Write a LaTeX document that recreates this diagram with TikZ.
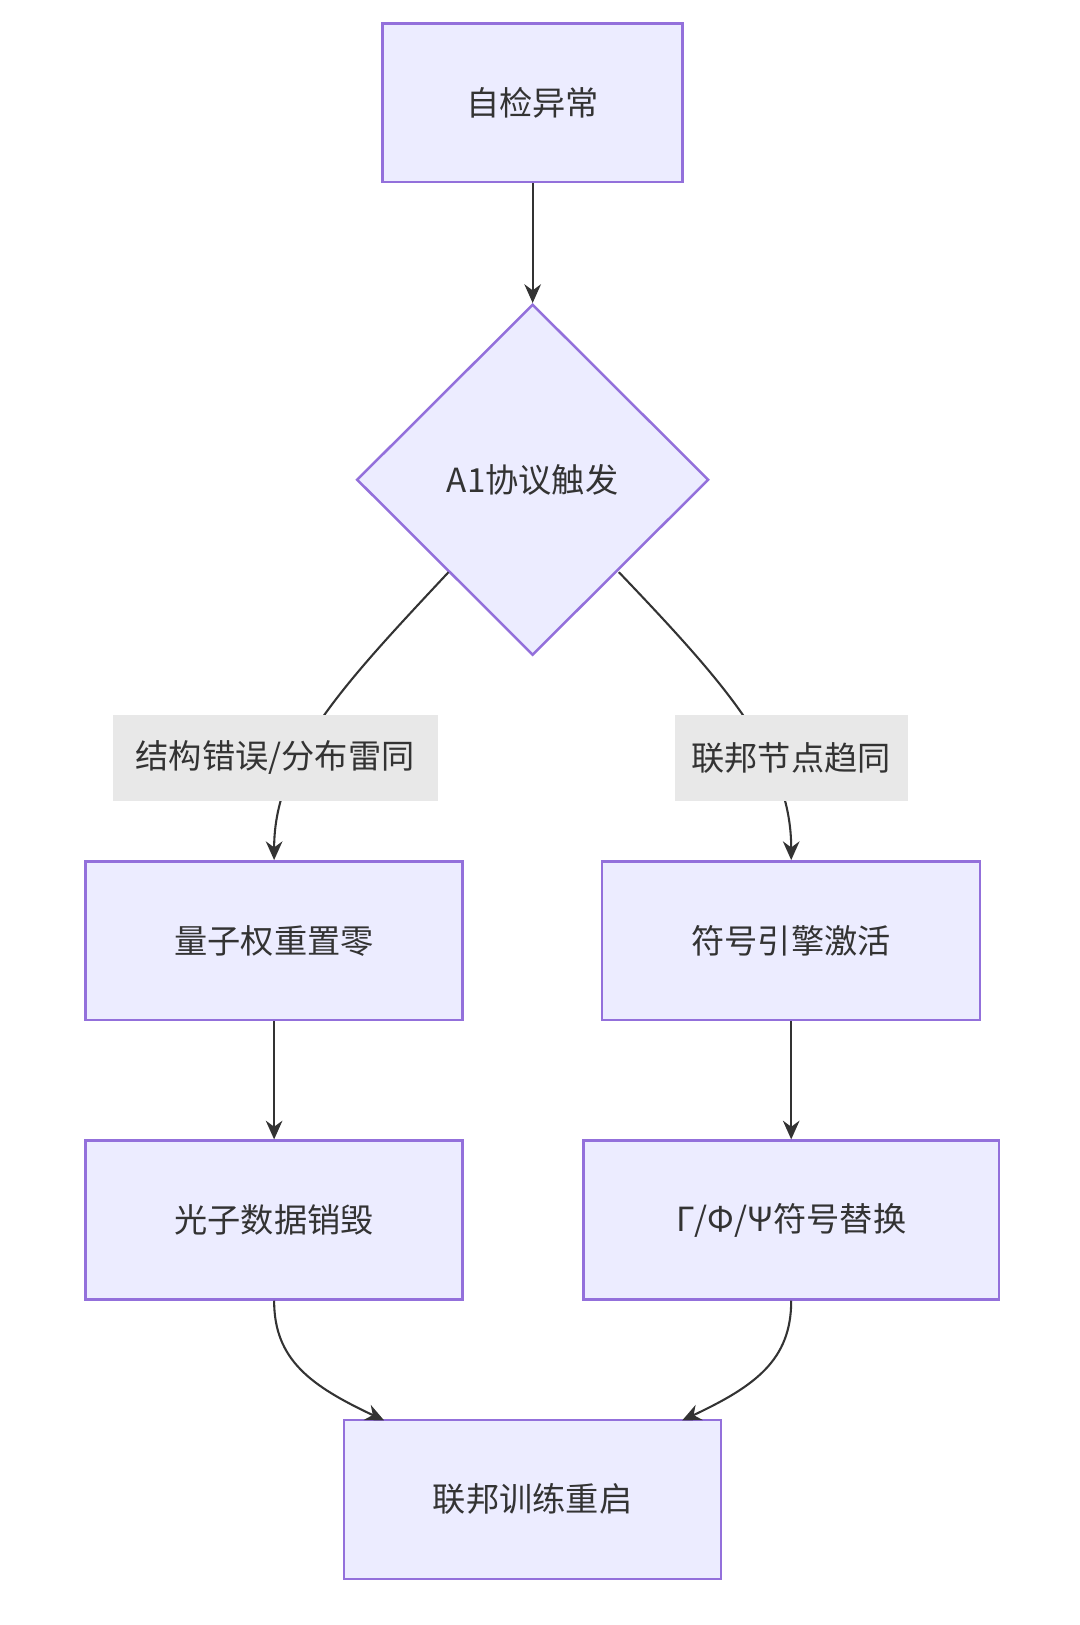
\documentclass[tikz,border=0pt]{standalone}
\usepackage{fontspec}
\setmainfont{Noto Sans CJK SC}
\usetikzlibrary{shapes.geometric,arrows.meta}
\definecolor{bx}{HTML}{ECECFF}
\definecolor{bd}{HTML}{9370DB}
\definecolor{tx}{HTML}{333333}
\definecolor{lb}{HTML}{E8E8E8}
\begin{document}
\begin{tikzpicture}[x=0.5pt,y=-0.5pt,
 box/.style={draw=bd,fill=bx,line width=1.2pt,text=tx,font=\fontsize{16}{19}\selectfont,inner sep=0pt},
 lab/.style={fill=lb,text=tx,font=\fontsize{16}{19}\selectfont,inner sep=0pt,minimum height=41.5pt},
 ar/.style={draw=tx,line width=1pt,-{Stealth[length=9pt,width=8pt]}}]
\useasboundingbox (0,0) rectangle (1040,1565);
\node[box,minimum width=144.5pt,minimum height=76.5pt] (a) at (513,99) {自检异常};
\node[box,diamond,minimum width=169.5pt,minimum height=169pt] (b) at (513,462) {A1协议触发};
\node[box,minimum width=181.5pt,minimum height=76.5pt] (c) at (264,906) {量子权重置零};
\node[box,minimum width=182pt,minimum height=76.5pt] (d) at (762,906) {符号引擎激活};
\node[box,minimum width=181.5pt,minimum height=76.5pt] (e) at (264,1175) {光子数据销毁};
\node[box,minimum width=200pt,minimum height=76.5pt] (f) at (762,1175) {Γ/Φ/Ψ符号替换};
\node[box,minimum width=181.5pt,minimum height=76.5pt] (g) at (513,1444) {联邦训练重启};
\coordinate (bl) at (432,551);
\coordinate (br) at (596,551);
\coordinate (gl) at (370,1368);
\coordinate (gr) at (657,1368);
\draw[ar] (a) -- (b);
\draw[ar] (bl) .. controls (330,660) and (264,730) .. (c.north);
\draw[ar] (br) .. controls (700,660) and (762,730) .. (d.north);
\draw[ar] (c) -- (e);
\draw[ar] (d) -- (f);
\draw[ar] (e.south) .. controls (264,1310) and (300,1335) .. (gl);
\draw[ar] (f.south) .. controls (762,1310) and (727,1335) .. (gr);
\node[lab,minimum width=156.5pt] (l1) at (265,730) {结构错误/分布雷同};
\node[lab,minimum width=112pt] (l2) at (762,730) {联邦节点趋同};
\end{tikzpicture}
\end{document}
